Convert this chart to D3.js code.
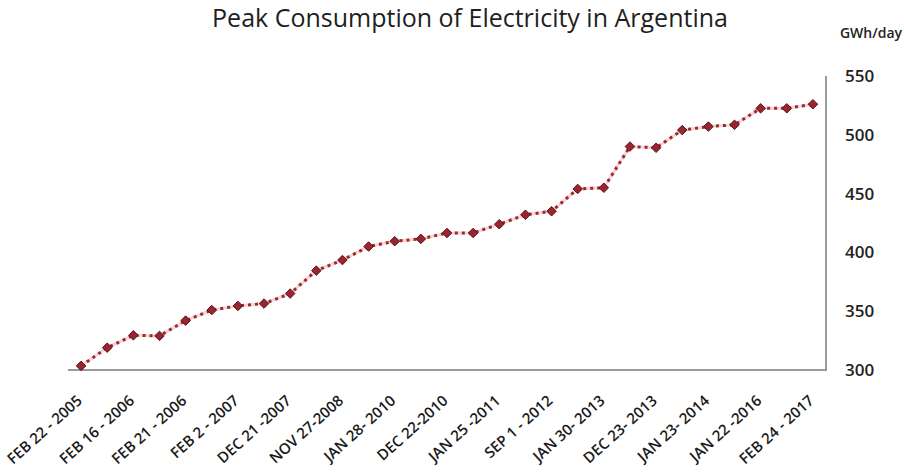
<!DOCTYPE html>
<html>
<head>
<meta charset="utf-8">
<script src="https://cdn.jsdelivr.net/npm/d3@7"></script>
<style>
  html, body { margin: 0; padding: 0; background: #fff; }
  svg { display: block; }
</style>
</head>
<body>
<svg id="chart" width="904" height="476"></svg>
<script>
// Peak daily electricity consumption records (GWh/day), one value per record date
const peakValues = [303.5, 319, 329.5, 329, 342, 351, 354.5, 356.5, 365, 384.5,
  393.5, 405, 409.5, 411.5, 416.5, 416.5, 424, 432, 435, 454,
  455, 490, 489, 504, 507, 508.5, 522.5, 522.5, 526];

// Dates shown on the axis (every second record)
const dateLabels = ["FEB 22 - 2005", "FEB 16 - 2006", "FEB 21 - 2006", "FEB 2 - 2007",
  "DEC 21 -2007", "NOV 27-2008", "JAN 28- 2010", "DEC 22-2010", "JAN 25 -2011",
  "SEP 1 - 2012", "JAN 30- 2013", "DEC 23- 2013", "JAN 23- 2014", "JAN 22 -2016",
  "FEB 24 - 2017"];

const yTicks = [300, 350, 400, 450, 500, 550];

const svg = d3.select("#chart");
const plotLeft = 68, plotRight = 826, plotTop = 76, plotBottom = 370;

const x = d3.scaleBand()
  .domain(d3.range(peakValues.length))
  .range([plotLeft, plotRight])
  .paddingInner(0).paddingOuter(0);

const y = d3.scaleLinear().domain([300, 550]).range([plotBottom, plotTop]);

const cx = i => x(i) + x.bandwidth() / 2;

// Title
svg.append("text")
  .attr("x", 470).attr("y", 27)
  .attr("text-anchor", "middle")
  .attr("font-family", "Open Sans, sans-serif")
  .attr("font-size", 25)
  .attr("font-weight", 400)
  .attr("fill", "#1e1e1e")
  .text("Peak Consumption of Electricity in Argentina");

// Unit label
svg.append("text")
  .attr("x", 871).attr("y", 38)
  .attr("text-anchor", "middle")
  .attr("font-family", "Open Sans, sans-serif")
  .attr("font-size", 14)
  .attr("font-weight", 600)
  .attr("fill", "#222")
  .text("GWh/day");

// Right-hand value axis
const yAxis = d3.axisRight(y).tickValues(yTicks).tickSize(0).tickPadding(19);
const gy = svg.append("g").attr("transform", `translate(${plotRight},0)`).call(yAxis);
gy.select(".domain").attr("stroke", "#9a9a9a").attr("stroke-width", 2)
  .attr("d", `M0,${plotBottom}V${plotTop}`);
gy.selectAll("text")
  .attr("font-family", "Open Sans, sans-serif")
  .attr("font-size", 17)
  .attr("font-weight", 600)
  .attr("fill", "#222");

// Bottom date axis
const xAxis = d3.axisBottom(x)
  .tickValues(d3.range(0, peakValues.length, 2))
  .tickFormat(i => dateLabels[i / 2])
  .tickSize(0).tickPadding(0);
const gx = svg.append("g").attr("transform", `translate(0,${plotBottom})`).call(xAxis);
gx.select(".domain").attr("stroke", "#9a9a9a").attr("stroke-width", 2)
  .attr("d", `M${plotLeft},0H${plotRight + 1}`);
gx.selectAll("text")
  .attr("font-family", "Open Sans, sans-serif")
  .attr("font-size", 15)
  .attr("font-weight", 600)
  .attr("fill", "#1a1a1a")
  .attr("text-anchor", "end")
  .attr("y", 0)
  .attr("dy", null)
  .attr("transform", "translate(2,32) rotate(-42)");

// Dotted connecting line with a soft halo
const line = d3.line().x((d, i) => cx(i)).y(d => y(d));
svg.append("path")
  .datum(peakValues)
  .attr("d", line)
  .attr("fill", "none")
  .attr("stroke", "#f6d3d5")
  .attr("stroke-width", 3);
svg.append("path")
  .datum(peakValues)
  .attr("d", line)
  .attr("fill", "none")
  .attr("stroke", "#9b2a30")
  .attr("stroke-width", 3)
  .attr("stroke-dasharray", "3,4");

// Diamond markers
const diamond = d3.symbol().type(d3.symbolDiamond2).size(58);
svg.append("g").selectAll("path")
  .data(peakValues)
  .join("path")
  .attr("d", diamond)
  .attr("transform", (d, i) => `translate(${cx(i)},${y(d)})`)
  .attr("fill", "#9a2530")
  .attr("stroke", "#5a1418")
  .attr("stroke-width", 1);
</script>
</body>
</html>
